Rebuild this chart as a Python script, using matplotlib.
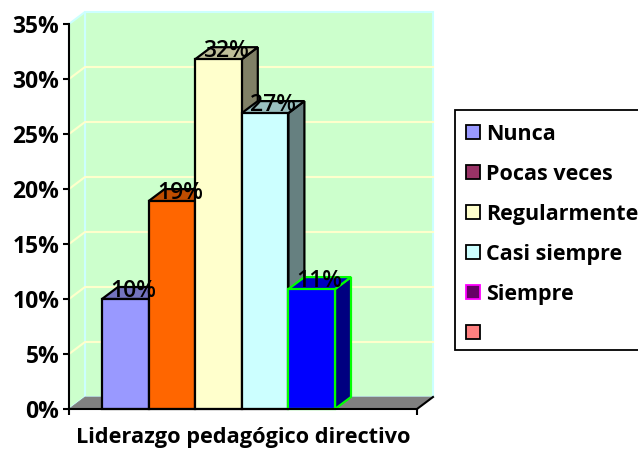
import matplotlib
matplotlib.use("Agg")
import matplotlib.pyplot as plt
from matplotlib.patches import Polygon, Patch, Rectangle

plt.rcParams['font.family'] = ['Open Sans', 'DejaVu Sans']

title = "Liderazgo pedagógico directivo"
series = ["Nunca", "Pocas veces", "Regularmente", "Casi siempre", "Siempre", ""]
bar_values = [10.0, 18.9, 31.8, 26.9, 10.9]
bar_labels = ["10%", "19%", "32%", "27%", "11%"]
bar_fill = ["#9999FF", "#FF6600", "#FFFFCC", "#CCFFFF", "#0000FF"]
bar_top = ["#7373BF", "#BF4D00", "#BFBF99", "#99BFBF", "#0000BF"]
bar_side = ["#4D4D80", "#803300", "#808066", "#668080", "#000080"]
bar_edge = ["black", "black", "black", "black", "#00FF00"]
legend_fill = ["#9999FF", "#993366", "#FFFFCC", "#CCFFFF", "#660066", "#FF8080"]
legend_edge = ["black", "black", "black", "black", "#FF00FF", "black"]
yticks = [0, 5, 10, 15, 20, 25, 30, 35]

W, H = 638, 450
fig = plt.figure(figsize=(W / 100, H / 100), dpi=100, facecolor="white")
L, R, T, B = 69, 417, 24, 409
ax = fig.add_axes([L / W, 1 - B / H, (R - L) / W, (B - T) / H])
px_x = 46.6
xmin = -(102 - L) / px_x
ax.set_xlim(xmin, xmin + (R - L) / px_x)
ax.set_ylim(0, 35)
ax.set_facecolor("none")
xmax = ax.get_xlim()[1]
DX, DY = 16 / px_x, 12 / 11

def poly(pts, **kw):
    kw.setdefault("clip_on", False)
    ax.add_patch(Polygon(pts, closed=True, **kw))

WALL, WALLEDGE, GRID = "#CCFFCC", "#CCFFFF", "#FFFFCC"
# back wall and side wall
poly([(xmin + DX, DY), (xmax + DX, DY), (xmax + DX, 35 + DY), (xmin + DX, 35 + DY)],
     facecolor=WALL, edgecolor=WALLEDGE, lw=1.5, zorder=1)
poly([(xmin, 0), (xmin + DX, DY), (xmin + DX, 35 + DY), (xmin, 35)],
     facecolor=WALL, edgecolor=WALLEDGE, lw=1.5, zorder=1)
# gridlines
for v in yticks[1:-1]:
    ax.plot([xmin, xmin + DX, xmax + DX], [v, v + DY, v + DY], color=GRID, lw=1.5,
            clip_on=False, zorder=1.5)
# floor
poly([(xmin, 0), (xmax, 0), (xmax + DX, DY), (xmin + DX, DY)],
     facecolor="#808080", edgecolor="#808080", lw=0.5, zorder=2)

# bars
for i, v in enumerate(bar_values):
    z = 3 + i * 0.1
    e = bar_edge[i]
    kw = dict(edgecolor=e, lw=1.6, joinstyle="miter", zorder=z)
    poly([(i + 1, 0), (i + 1 + DX, DY), (i + 1 + DX, v + DY), (i + 1, v)], facecolor=bar_side[i], **kw)
    poly([(i, v), (i + 1, v), (i + 1 + DX, v + DY), (i + DX, v + DY)], facecolor=bar_top[i], **kw)
    ax.bar(i + 0.5, v, width=1, facecolor=bar_fill[i], edgecolor=e, lw=1.6, zorder=z, clip_on=False)
for i, v in enumerate(bar_values):
    ax.text(i + 0.5 + DX / 2, v + 0.75, bar_labels[i], ha="center", va="center",
            fontsize=16.5, fontweight="semibold", color="black", zorder=6, clip_on=False)

# axes lines and ticks
for s in ("top", "right"):
    ax.spines[s].set_visible(False)
for s in ("left", "bottom"):
    ax.spines[s].set_linewidth(1.5)
    ax.spines[s].set_zorder(5)
ax.set_yticks(yticks)
ax.set_yticklabels([f"{v}%" for v in yticks], fontsize=16.5, fontweight="bold")
ax.tick_params(axis="y", length=4, width=1.5, pad=3)
ax.set_xticks([xmin, xmax])
ax.set_xticklabels(["", ""])
ax.tick_params(axis="x", length=4, width=1.5)
ax.plot([xmax, xmax + DX], [0, DY], color="black", lw=1.5, clip_on=False, zorder=5)
fig.text(243 / W, 1 - 437 / H, title, ha="center", va="center", fontsize=15.7, fontweight="bold")

# legend: box runs past the right edge of the figure
fig.add_artist(Rectangle((455 / W, 1 - 350 / H), 200 / W, 240 / H, transform=fig.transFigure,
                         facecolor="white", edgecolor="black", lw=1.3, clip_on=True))
handles = [Patch(facecolor=f, edgecolor=e, lw=1.3) for f, e in zip(legend_fill, legend_edge)]
leg = fig.legend(handles, series, loc="upper left", bbox_to_anchor=(455 / W, 1 - 113 / H),
                 bbox_transform=fig.transFigure, frameon=False,
                 prop=dict(family="Open Sans", weight="bold", size=15.5),
                 handlelength=0.65, handleheight=0.65, handletextpad=0.3,
                 labelspacing=0.88, borderpad=0.5, borderaxespad=0)

fig.savefig("out.png", dpi=100, facecolor="white")
